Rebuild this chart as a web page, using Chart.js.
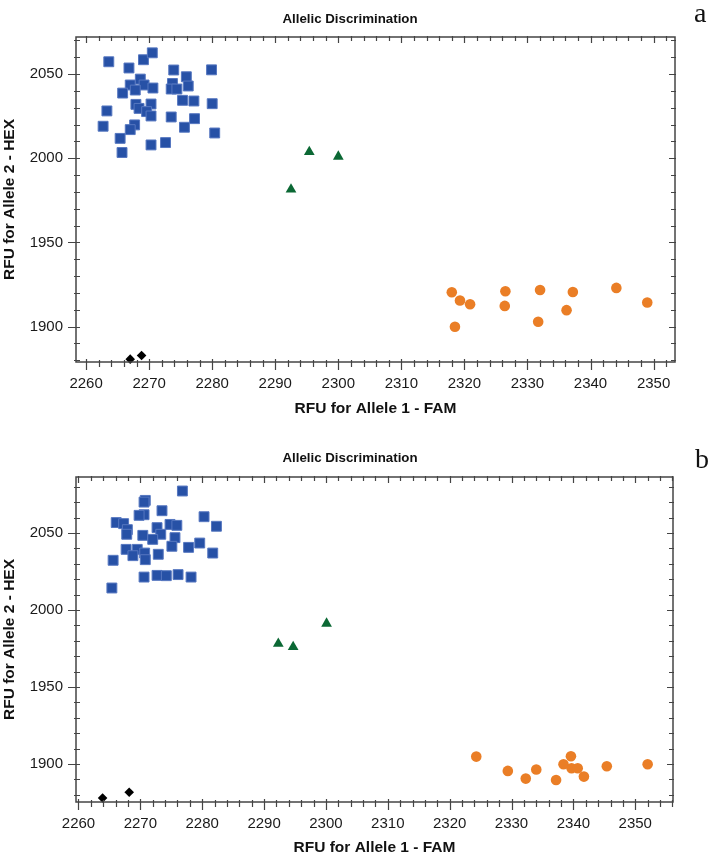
<!DOCTYPE html>
<html lang="en">
<head>
<meta charset="UTF-8">
<title>Allelic Discrimination</title>
<script src="https://cdn.jsdelivr.net/npm/chart.js"></script>
<style>
  body { margin: 0; background: #fff; }
  canvas { display: block; }
</style>
</head>
<body>
<canvas id="chartA" width="709" height="430"></canvas>
<canvas id="chartB" width="709" height="425"></canvas>

<script>
// tick labels
const xTicks = [2260, 2270, 2280, 2290, 2300, 2310, 2320, 2330, 2340, 2350];
const yTicks = [1900, 1950, 2000, 2050];

// panel a - RFU FAM (x) / RFU HEX (y) per cluster
const aAllele2Fam = [2263.6, 2266.8, 2269.1, 2270.5, 2273.9, 2279.9, 2275.9, 2268.6, 2267.0, 2269.2, 2270.6, 2267.8, 2273.7, 2273.5, 2274.4, 2276.2, 2265.8, 2275.3, 2277.1, 2280.0, 2267.9, 2270.3, 2268.4, 2263.3, 2269.6, 2270.3, 2273.5, 2277.2, 2262.7, 2267.7, 2267.0, 2275.6, 2280.4, 2265.4, 2272.6, 2270.3, 2265.7];
const aAllele2Hex = [2057.3, 2053.6, 2058.5, 2062.6, 2052.4, 2052.5, 2048.4, 2047.0, 2043.5, 2043.5, 2041.7, 2040.5, 2044.4, 2041.1, 2041.1, 2042.9, 2038.7, 2034.4, 2034.0, 2032.4, 2032.0, 2032.2, 2029.6, 2028.1, 2027.7, 2025.1, 2024.5, 2023.5, 2019.0, 2019.8, 2017.0, 2018.4, 2015.0, 2011.8, 2009.3, 2007.9, 2003.4];
const aHeteroFam = [2295.4, 2300.0, 2292.5];
const aHeteroHex = [2003.8, 2001.0, 1981.5];
const aAllele1Fam = [2318.0, 2319.3, 2320.9, 2318.5, 2326.5, 2326.4, 2332.0, 2331.7, 2337.2, 2336.2, 2344.1, 2349.0];
const aAllele1Hex = [1920.4, 1915.5, 1913.3, 1899.9, 1921.0, 1912.3, 1921.8, 1902.9, 1920.6, 1909.8, 1923.0, 1914.3];
const aNtcFam = [2267.0, 2268.8];
const aNtcHex = [1880.7, 1882.9];

// panel b
const bAllele2Fam = [2276.8, 2270.8, 2270.6, 2273.5, 2270.6, 2269.8, 2280.3, 2266.1, 2267.3, 2282.3, 2274.8, 2275.9, 2267.9, 2272.7, 2267.8, 2270.4, 2273.3, 2272.0, 2275.6, 2275.1, 2277.8, 2279.6, 2267.7, 2269.5, 2281.7, 2268.8, 2270.7, 2272.9, 2270.8, 2265.6, 2270.6, 2272.7, 2274.2, 2276.1, 2278.2, 2265.4];
const bAllele2Hex = [2077.3, 2071.2, 2070.1, 2064.5, 2061.9, 2061.5, 2060.6, 2056.8, 2056.1, 2054.4, 2055.6, 2055.0, 2052.2, 2053.5, 2049.2, 2048.5, 2049.2, 2045.9, 2047.0, 2041.4, 2040.7, 2043.5, 2039.4, 2039.4, 2037.0, 2035.3, 2037.0, 2036.2, 2032.7, 2032.3, 2021.4, 2022.5, 2022.3, 2023.0, 2021.4, 2014.3];
const bHeteroFam = [2292.3, 2294.7, 2300.1];
const bHeteroHex = [1978.2, 1976.0, 1991.2];
const bAllele1Fam = [2324.3, 2329.4, 2332.3, 2334.0, 2337.2, 2338.4, 2339.6, 2339.7, 2340.7, 2341.7, 2345.4, 2352.0];
const bAllele1Hex = [1904.8, 1895.5, 1890.5, 1896.4, 1889.6, 1899.8, 1905.0, 1897.2, 1897.2, 1891.8, 1898.5, 1899.8];
const bNtcFam = [2263.9, 2268.2];
const bNtcHex = [1877.9, 1881.6];

const FONT = "'Liberation Sans', Arial, sans-serif";
Chart.defaults.font.family = FONT;
Chart.defaults.color = '#1a1a1a';

function pts(xs, ys) {
    return xs.map((x, i) => ({x: x, y: ys[i]}));
}

// frame round the plot with minor/major tick marks on all four sides
const frameTicks = {
    id: 'frameTicks',
    afterDraw(chart) {
        const {ctx, chartArea: ca, scales: {x, y}} = chart;
        ctx.save();
        ctx.strokeStyle = '#444';
        ctx.lineWidth = 1.5;
        ctx.strokeRect(ca.left, ca.top, ca.right - ca.left, ca.bottom - ca.top);
        ctx.lineWidth = 1.2;
        ctx.beginPath();
        for (let v = Math.ceil(x.min / 2) * 2; v <= x.max; v += 2) {
            const px = Math.round(x.getPixelForValue(v)) + 0.5;
            const major = v % 10 === 0;
            ctx.moveTo(px, ca.bottom - (major ? 3 : 2));
            ctx.lineTo(px, ca.bottom + (major ? 8 : 5));
            ctx.moveTo(px, ca.top - 1);
            ctx.lineTo(px, ca.top + (major ? 6 : 4));
        }
        for (let v = Math.ceil(y.min / 10) * 10; v <= y.max; v += 10) {
            const py = Math.round(y.getPixelForValue(v)) + 0.5;
            const major = v % 50 === 0;
            ctx.moveTo(ca.left - (major ? 8 : 2), py);
            ctx.lineTo(ca.left + 4, py);
            ctx.moveTo(ca.right - (major ? 6 : 4), py);
            ctx.lineTo(ca.right + 1, py);
        }
        ctx.stroke();
        ctx.restore();
    }
};

// chart title and panel letter
const panelText = {
    id: 'panelText',
    afterDraw(chart, args, opts) {
        const ctx = chart.ctx;
        ctx.save();
        ctx.fillStyle = '#111';
        ctx.textAlign = 'center';
        ctx.textBaseline = 'middle';
        ctx.font = 'bold 13.3px ' + FONT;
        ctx.fillText(opts.title, 350, opts.titleY);
        ctx.textAlign = 'left';
        ctx.textBaseline = 'alphabetic';
        ctx.font = "28px 'Liberation Serif', 'Times New Roman', serif";
        ctx.fillText(opts.letter, opts.letterX, opts.letterY);
        ctx.restore();
    }
};

function makeChart(id, d, g) {
    new Chart(document.getElementById(id), {
        type: 'scatter',
        data: {
            datasets: [
                {
                    label: 'Allele 2',
                    data: pts(d.a2x, d.a2y),
                    pointStyle: 'rect',
                    pointRadius: 7,
                    backgroundColor: '#2751a6',
                    borderColor: '#5677c0',
                    borderWidth: 1
                },
                {
                    label: 'Heterozygous',
                    data: pts(d.hx, d.hy),
                    pointStyle: 'triangle',
                    pointRadius: 6.2,
                    backgroundColor: '#0b6834',
                    borderColor: '#0b6834',
                    borderWidth: 0
                },
                {
                    label: 'Allele 1',
                    data: pts(d.a1x, d.a1y),
                    pointStyle: 'circle',
                    pointRadius: 5.3,
                    backgroundColor: '#ea7e26',
                    borderColor: '#ea7e26',
                    borderWidth: 0
                },
                {
                    label: 'NTC',
                    data: pts(d.nx, d.ny),
                    pointStyle: 'rectRot',
                    pointRadius: 4.8,
                    backgroundColor: '#000',
                    borderColor: '#000',
                    borderWidth: 0
                }
            ]
        },
        options: {
            responsive: false,
            animation: false,
            devicePixelRatio: 1,
            clip: false,
            layout: {padding: {top: g.top, right: g.right, left: 0, bottom: 0}},
            scales: {
                x: {
                    type: 'linear',
                    min: g.xMin,
                    max: g.xMax,
                    afterBuildTicks: s => { s.ticks = xTicks.map(v => ({value: v})); },
                    afterFit: s => { s.height = g.xHeight; },
                    grid: {display: false, drawTicks: false},
                    border: {display: false},
                    ticks: {font: {size: 15}, padding: 13, color: '#1a1a1a', callback: v => String(v)},
                    title: {
                        display: true,
                        text: 'RFU for Allele 1 - FAM',
                        font: {size: 15.5, weight: 'bold', lineHeight: 1},
                        color: '#111',
                        padding: {top: 0, bottom: g.xTitlePad}
                    }
                },
                y: {
                    type: 'linear',
                    min: g.yMin,
                    max: g.yMax,
                    afterBuildTicks: s => { s.ticks = yTicks.map(v => ({value: v})); },
                    afterFit: s => { s.width = 76; },
                    grid: {display: false, drawTicks: false},
                    border: {display: false},
                    ticks: {font: {size: 15}, padding: 13, color: '#1a1a1a', callback: v => String(v)},
                    title: {
                        display: true,
                        text: 'RFU for Allele 2 - HEX',
                        font: {size: 15.5, weight: 'bold', lineHeight: 1},
                        color: '#111',
                        padding: {top: 1.5, bottom: 0}
                    }
                }
            },
            plugins: {
                legend: {display: false},
                tooltip: {enabled: false},
                panelText: {title: 'Allelic Discrimination', titleY: g.titleY, letter: g.letter, letterX: g.letterX, letterY: g.letterY}
            }
        },
        plugins: [frameTicks, panelText]
    });
}

makeChart('chartA',
    {a2x: aAllele2Fam, a2y: aAllele2Hex, hx: aHeteroFam, hy: aHeteroHex, a1x: aAllele1Fam, a1y: aAllele1Hex, nx: aNtcFam, ny: aNtcHex},
    {top: 37, right: 34, xHeight: 68, xTitlePad: 13.2, xMin: 2258.4, xMax: 2353.4, yMin: 1879, yMax: 2072,
     titleY: 19, letter: 'a', letterX: 694, letterY: 22});

makeChart('chartB',
    {a2x: bAllele2Fam, a2y: bAllele2Hex, hx: bHeteroFam, hy: bHeteroHex, a1x: bAllele1Fam, a1y: bAllele1Hex, nx: bNtcFam, ny: bNtcHex},
    {top: 47, right: 36, xHeight: 53, xTitlePad: 0, xMin: 2259.6, xMax: 2356.1, yMin: 1875.3, yMax: 2086.4,
     titleY: 28, letter: 'b', letterX: 695, letterY: 38});
</script>
</body>
</html>
